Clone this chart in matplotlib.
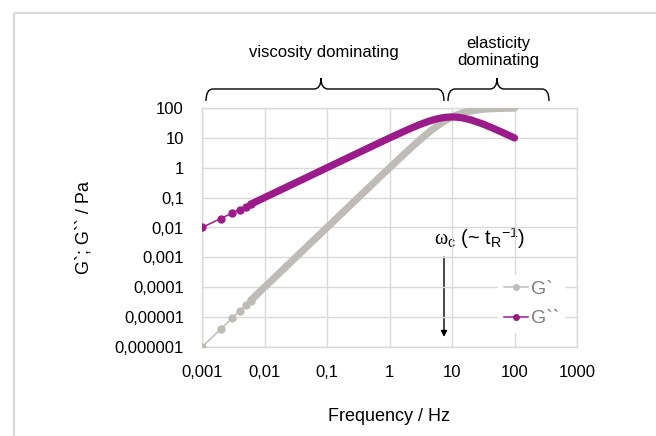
import matplotlib
matplotlib.use('Agg')
import matplotlib.pyplot as plt
from matplotlib.path import Path
from matplotlib.patches import PathPatch, Rectangle
import numpy as np

plt.rcParams['font.family'] = ['Liberation Sans', 'DejaVu Sans']
plt.rcParams['mathtext.fontset'] = 'custom'
plt.rcParams['mathtext.rm'] = 'Liberation Sans'
plt.rcParams['mathtext.it'] = 'Liberation Serif'
plt.rcParams['mathtext.bf'] = 'Liberation Sans:bold'

# frequency / Hz and moduli / Pa
freq = [0.001, 0.002, 0.003, 0.004, 0.005, 0.006, 0.007, 0.008, 0.009,
        0.01, 0.02, 0.03, 0.04, 0.05, 0.06, 0.07, 0.08, 0.09,
        0.1, 0.2, 0.3, 0.4, 0.5, 0.6, 0.7, 0.8, 0.9,
        1, 2, 3, 4, 5, 6, 7, 8, 9,
        10, 12, 15, 20, 30, 40, 50, 60, 70, 80, 90, 100]
g_storage = [1e-6, 4e-6, 9e-6, 1.6e-5, 2.5e-5, 3.6e-5, 4.9e-5, 6.4e-5, 8.1e-5,
             1e-4, 4e-4, 9e-4, 1.6e-3, 2.5e-3, 3.6e-3, 4.9e-3, 6.4e-3, 8.1e-3,
             0.01, 0.04, 0.09, 0.16, 0.25, 0.36, 0.49, 0.64, 0.80,
             0.99, 3.85, 8.26, 13.8, 20.0, 26.5, 32.9, 39.0, 44.8,
             50.0, 59.0, 69.2, 80.0, 90.0, 94.1, 96.2, 97.3, 98.0, 98.5, 98.8, 99.0]
g_loss = [0.01, 0.02, 0.03, 0.04, 0.05, 0.06, 0.07, 0.08, 0.09,
          0.1, 0.2, 0.3, 0.4, 0.5, 0.6, 0.7, 0.8, 0.9,
          1.0, 2.0, 3.0, 4.0, 4.99, 5.98, 6.97, 7.95, 8.93,
          9.90, 19.2, 27.5, 34.5, 40.0, 44.1, 47.0, 48.8, 49.7,
          50.0, 49.2, 46.2, 40.0, 30.0, 23.5, 19.2, 16.2, 14.0, 12.3, 11.0, 9.9]

x_ticks = [0.001, 0.01, 0.1, 1, 10, 100, 1000]
x_tick_labels = ['0,001', '0,01', '0,1', '1', '10', '100', '1000']
y_ticks = [1e-6, 1e-5, 1e-4, 1e-3, 1e-2, 0.1, 1, 10, 100]
y_tick_labels = ['0,000001', '0,00001', '0,0001', '0,001', '0,01', '0,1', '1', '10', '100']

gray = '#bfbcb8'
purple = '#9b1b8a'
grid_c = '#d9d9d9'

W, H = 656, 436
fig = plt.figure(figsize=(W / 100, H / 100), dpi=100)

# overlay in pixel coords for frame, braces, arrow
ov = fig.add_axes([0, 0, 1, 1], zorder=0)
ov.set_xlim(0, W)
ov.set_ylim(H, 0)
ov.axis('off')

ax = fig.add_axes([202 / W, 1 - 347 / H, 375 / W, 239 / H], zorder=1)
ax.set_facecolor('none')

dense = 5  # markers merge into a band from here on
ax.plot(freq, g_storage, color=gray, lw=1.1, marker='o', ms=5, mec=gray, mfc=gray,
        markevery=list(range(dense + 1)), label='G`', zorder=3)
ax.plot(freq[dense:], g_storage[dense:], color=gray, lw=5.2,
        solid_capstyle='round', solid_joinstyle='round', zorder=3)
ax.plot(freq, g_loss, color=purple, lw=1.1, marker='o', ms=5, mec=purple, mfc=purple,
        markevery=list(range(dense + 1)), label='G``', zorder=4)
ax.plot(freq[dense:], g_loss[dense:], color=purple, lw=5.2,
        solid_capstyle='round', solid_joinstyle='round', zorder=4)

ax.set_xscale('log')
ax.set_yscale('log')
ax.set_xlim(0.001, 1000)
ax.set_ylim(1e-6, 100)
ax.set_xticks(x_ticks)
ax.set_xticklabels(x_tick_labels)
ax.set_yticks(y_ticks)
ax.set_yticklabels(y_tick_labels)
ax.minorticks_off()
ax.tick_params(length=0, labelsize=12, pad=13, colors='#000000')
ax.grid(True, color=grid_c, lw=1)
for s in ax.spines.values():
    s.set_color(grid_c)
    s.set_linewidth(1)

ax.set_xlabel('Frequency / Hz', fontsize=13, labelpad=20)
ax.set_ylabel('G`; G`` / Pa', fontsize=13, labelpad=16)

leg = ax.legend(loc='upper left', bbox_to_anchor=((488 - 202) / 375, (347 - 265) / 239),
                frameon=True, facecolor='white', edgecolor='none', framealpha=1,
                fontsize=14, handlelength=1.25, handletextpad=0.15, labelspacing=0.6,
                borderpad=0.3, markerscale=0.8)
for t in leg.get_texts():
    t.set_color('#7f7f7f')

# outer frame
ov.add_patch(Rectangle((13.5, 13.5), 700, 500, fill=False, ec=grid_c, lw=1.6, clip_on=False))


def brace(x0, x1, xm, ytop, ybot, ytip, r=7):
    verts = [(x0, ybot), (x0, ytop), (x0 + r, ytop),
             (xm - r, ytop), (xm, ytop), (xm, ytip),
             (xm, ytop), (xm + r, ytop),
             (x1 - r, ytop), (x1, ytop), (x1, ybot)]
    codes = [Path.MOVETO, Path.CURVE3, Path.CURVE3,
             Path.LINETO, Path.CURVE3, Path.CURVE3,
             Path.CURVE3, Path.CURVE3,
             Path.LINETO, Path.CURVE3, Path.CURVE3]
    ov.add_patch(PathPatch(Path(verts, codes), fill=False, ec='black', lw=1.0))


brace(206, 444, 321, 89, 101, 78)
brace(448, 549, 497, 89, 101, 78)

ov.text(324, 53, 'viscosity dominating', ha='center', va='center', fontsize=12)
ov.text(498, 52, 'elasticity\ndominating', ha='center', va='center', fontsize=12,
        linespacing=1.2)

ov.annotate('', xy=(444, 337), xytext=(444, 257),
            arrowprops=dict(arrowstyle='-|>', color='black', lw=1.0,
                            mutation_scale=9, shrinkA=0, shrinkB=0))
ov.text(479, 238, r'$\omega_{\mathrm{c}}$ (~ t$_{\mathrm{R}}$$^{\mathrm{-1}}$)',
        ha='center', va='center', fontsize=14.5)

fig.savefig('out.png', dpi=100)
